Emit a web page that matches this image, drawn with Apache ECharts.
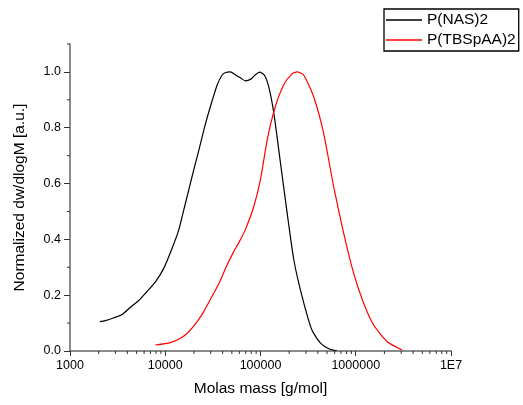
<!DOCTYPE html>
<html>
<head>
<meta charset="utf-8">
<script src="https://cdn.jsdelivr.net/npm/echarts@6/dist/echarts.min.js"></script>
<style>html,body{margin:0;padding:0;background:#fff}#c{width:523px;height:405px}</style>
</head>
<body>
<div id="c"></div>
<script>
// Molar mass values (g/mol) and normalized dw/dlogM
const nasMass = [2056,2355,2884,3532,4315,5272,6194,7890,9640,11800,13870,15630,17660,19910,22860,26000,29790,35080,39540,43000,48310,54580,62000,69180,80000,88510,97720,109600,121900,138000,162200,190500,223900,273500,346700,426600,537000,631000];
const nasValue = [0.105,0.109,0.119,0.131,0.157,0.181,0.207,0.248,0.296,0.368,0.434,0.505,0.577,0.649,0.728,0.805,0.876,0.953,0.989,0.998,1.0,0.989,0.978,0.968,0.975,0.99,0.999,0.989,0.947,0.852,0.673,0.494,0.326,0.195,0.075,0.028,0.006,0.001];
const tbsMass = [7890,11350,14450,17660,21630,25350,32280,37930,42850,52360,60000,69180,84920,99770,117500,143200,175000,213800,242100,283800,361400,460300,586100,746400,950600,1211000,1542000,2138000,3062000];
const tbsValue = [0.0215,0.030,0.0455,0.069,0.105,0.141,0.207,0.253,0.296,0.356,0.392,0.434,0.517,0.613,0.756,0.876,0.953,0.993,1.0,0.989,0.911,0.78,0.589,0.422,0.278,0.171,0.093,0.033,0.0036];
const seriesNames = ['P(NAS)2','P(TBSpAA)2'];
const xMajorTicks = [1000,10000,100000,1000000,10000000];
const xMinorTicks = [2000,3000,4000,5000,6000,7000,8000,9000,20000,30000,40000,50000,60000,70000,80000,90000,200000,300000,400000,500000,600000,700000,800000,900000,2000000,3000000,4000000,5000000,6000000,7000000,8000000,9000000];
const yMajorTicks = [0,0.2,0.4,0.6,0.8,1.0];
const yMinorTicks = [0.1,0.3,0.5,0.7,0.9,1.1];

const zip = (a,b) => a.map((v,i) => [v,b[i]]);
const FONT = '"Liberation Sans", Arial, sans-serif';

const chart = echarts.init(document.getElementById('c'), null, {renderer:'canvas'});
chart.setOption({
  animation:false,
  backgroundColor:'#fff',
  grid:{left:70,right:72,top:44,bottom:54,containLabel:false},
  legend:{
    data:seriesNames,
    orient:'vertical',
    left:384, top:9,
    padding:[3,3,3,2],
    itemGap:4,
    itemWidth:36, itemHeight:1.5,
    icon:'rect',
    borderColor:'#000', borderWidth:1.3,
    textStyle:{fontFamily:FONT,fontSize:15.5,color:'#000',lineHeight:16,padding:[0,0,0,0]}
  },
  xAxis:{
    type:'log', logBase:10, min:1000, max:10000000,
    name:'Molas mass [g/mol]', nameLocation:'middle', nameGap:30,
    nameTextStyle:{fontFamily:FONT,fontSize:15.5,color:'#000'},
    axisLine:{show:true,onZero:false,lineStyle:{color:'#666',width:1.5}},
    axisTick:{show:true,inside:false,length:5,customValues:xMajorTicks,lineStyle:{color:'#333',width:1}},
    axisLabel:{margin:8,fontFamily:FONT,fontSize:12.5,color:'#000',customValues:xMajorTicks,
      formatter:v => { const r = Math.round(v); return r === 10000000 ? '1E7' : String(r); }},
    splitLine:{show:false}
  },
  yAxis:{
    type:'value', min:0, max:1.1,
    name:'Normalized dw/dlogM [a.u.]', nameLocation:'middle', nameGap:42,
    nameTextStyle:{fontFamily:FONT,fontSize:15.5,color:'#000'},
    axisLine:{show:true,lineStyle:{color:'#666',width:1.5}},
    axisTick:{show:true,inside:false,length:6,customValues:yMajorTicks,lineStyle:{color:'#333',width:1}},
    axisLabel:{margin:9,fontFamily:FONT,fontSize:12.5,color:'#000',customValues:yMajorTicks,
      formatter:v => v.toFixed(1)},
    splitLine:{show:false}
  },
  series:[
    {name:seriesNames[0],type:'line',data:zip(nasMass,nasValue),showSymbol:false,smooth:0.2,
      lineStyle:{color:'#000',width:1.2},itemStyle:{color:'#000'}},
    {name:seriesNames[1],type:'line',data:zip(tbsMass,tbsValue),showSymbol:false,smooth:0.2,
      lineStyle:{color:'#ff0000',width:1.2},itemStyle:{color:'#ff0000'}},
    {type:'custom',silent:true,clip:false,data:xMinorTicks.map(v=>[v,0]),
      encode:{x:0,y:1},
      renderItem:(params,api)=>{const p=api.coord([api.value(0),0]);
        return {type:'line',shape:{x1:p[0],y1:p[1],x2:p[0],y2:p[1]+3},style:{stroke:'#333',lineWidth:1}};}},
    {type:'custom',silent:true,clip:false,data:yMinorTicks.map(v=>[1000,v]),
      encode:{x:0,y:1},
      renderItem:(params,api)=>{const p=api.coord([1000,api.value(1)]);
        return {type:'line',shape:{x1:p[0],y1:p[1],x2:p[0]-3,y2:p[1]},style:{stroke:'#333',lineWidth:1}};}}
  ]
});
</script>
</body>
</html>
